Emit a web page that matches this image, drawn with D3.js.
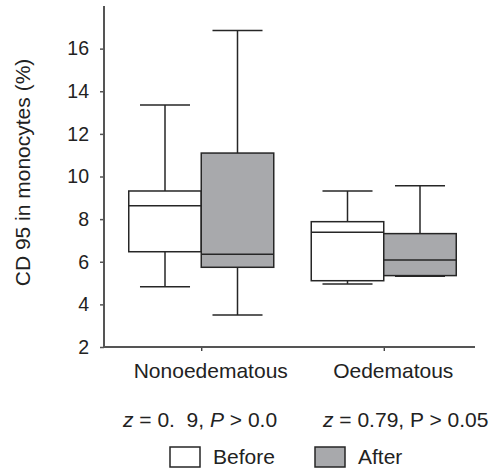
<!DOCTYPE html>
<html>
<head>
<meta charset="utf-8">
<script src="https://cdn.jsdelivr.net/npm/d3@7"></script>
<style>
  body { margin: 0; background: #fff; }
  svg { display: block; }
  text { font-family: "Liberation Sans", Arial, Helvetica, sans-serif; fill: #222; }
</style>
</head>
<body>
<svg id="chart" width="500" height="471"></svg>
<script>
// ---- data ----
const groups = ["Nonoedematous", "Oedematous"];
const series = ["Before", "After"];
// [whiskerLow, q1, median, q3, whiskerHigh]
const beforeStats = [[4.83, 6.47, 8.63, 9.32, 13.36], [4.96, 5.11, 7.38, 7.88, 9.32]];
const afterStats  = [[3.50, 5.74, 6.35, 11.10, 16.85], [5.32, 5.35, 6.08, 7.32, 9.57]];
const yTicks = [2, 4, 6, 8, 10, 12, 14, 16];
const statLabels = [
  [{t: "z", i: true}, {t: " = 0.  9, "}, {t: "P", i: true}, {t: " > 0.0"}],
  [{t: "z", i: true}, {t: " = 0.79, P > 0.05"}]
];
const yLabel = "CD 95 in monocytes (%)";

const svg = d3.select("#chart");
const y = d3.scaleLinear().domain([2, 18]).range([347, 6]);
const x = d3.scalePoint().domain(groups).range([110, 475]).padding(0.5);
const inner = d3.scaleBand().domain(series).range([-72.5, 72.5]);
const fills = {Before: "#ffffff", After: "#a8a9ac"};
const axisColor = "#555";
const boxColor = "#262626";
const FS = 21;

// axes
const gy = svg.append("g").attr("transform", "translate(104,0)")
  .call(d3.axisLeft(y).tickValues(yTicks).tickSize(4).tickSizeOuter(0).tickPadding(11));
gy.select(".domain").remove();
gy.append("line").attr("x1", 0).attr("x2", 0).attr("y1", y(18)).attr("y2", y(2))
  .attr("stroke", axisColor).attr("stroke-width", 2);
gy.selectAll(".tick line").attr("stroke", axisColor).attr("stroke-width", 1.5);
gy.selectAll(".tick text").attr("font-size", 19.5).attr("fill", "#222")
  .style("font-family", "Liberation Sans, Arial, sans-serif");

const gx = svg.append("g").attr("transform", `translate(0,${y(2)})`)
  .call(d3.axisBottom(x).tickSize(4).tickSizeOuter(0).tickPadding(12));
gx.select(".domain").remove();
gx.append("line").attr("x1", 104).attr("x2", 475).attr("y1", 0).attr("y2", 0)
  .attr("stroke", axisColor).attr("stroke-width", 2);
gx.selectAll(".tick line").attr("stroke", "#222").attr("stroke-width", 1.2);
gx.selectAll(".tick text").attr("font-size", FS).attr("fill", "#222").attr("dx", 9)
  .style("font-family", "Liberation Sans, Arial, sans-serif");

// y label
svg.append("text")
  .attr("transform", `translate(30,${(55 + 290) / 2}) rotate(-90)`)
  .attr("text-anchor", "middle")
  .attr("font-size", FS)
  .text(yLabel);

// boxes
const data = [];
groups.forEach((g, gi) => {
  data.push({g, s: "Before", v: beforeStats[gi]});
  data.push({g, s: "After", v: afterStats[gi]});
});
const bw = inner.bandwidth();
const capW = bw * 0.69;
const bg = svg.append("g").selectAll("g").data(data).join("g")
  .attr("transform", d => `translate(${x(d.g) + inner(d.s)},0)`);
bg.append("line").attr("x1", bw / 2).attr("x2", bw / 2)
  .attr("y1", d => y(d.v[4])).attr("y2", d => y(d.v[0]))
  .attr("stroke", boxColor).attr("stroke-width", 1.5);
bg.append("line").attr("x1", (bw - capW) / 2).attr("x2", (bw + capW) / 2)
  .attr("y1", d => y(d.v[4])).attr("y2", d => y(d.v[4]))
  .attr("stroke", boxColor).attr("stroke-width", 1.5);
bg.append("line").attr("x1", (bw - capW) / 2).attr("x2", (bw + capW) / 2)
  .attr("y1", d => y(d.v[0])).attr("y2", d => y(d.v[0]))
  .attr("stroke", boxColor).attr("stroke-width", 1.5);
bg.append("rect").attr("x", 0).attr("width", bw)
  .attr("y", d => y(d.v[3])).attr("height", d => y(d.v[1]) - y(d.v[3]))
  .attr("fill", d => fills[d.s]).attr("stroke", boxColor).attr("stroke-width", 1.5);
bg.append("line").attr("x1", 0).attr("x2", bw)
  .attr("y1", d => y(d.v[2])).attr("y2", d => y(d.v[2]))
  .attr("stroke", boxColor).attr("stroke-width", 1.5);

// stat labels
const statX = [123, 323];
statLabels.forEach((parts, i) => {
  const t = svg.append("text").attr("x", statX[i]).attr("y", 427)
    .attr("font-size", FS).style("white-space", "pre").attr("xml:space", "preserve");
  parts.forEach(p => t.append("tspan").attr("font-style", p.i ? "italic" : null).text(p.t));
});

// legend
const legX = [170, 315];
const lg = svg.append("g").selectAll("g").data(series).join("g")
  .attr("transform", (d, i) => `translate(${legX[i]},447)`);
lg.append("rect").attr("width", 30).attr("height", 20)
  .attr("fill", d => fills[d]).attr("stroke", boxColor).attr("stroke-width", 1.5);
lg.append("text").attr("x", 43).attr("y", 16.5).attr("font-size", FS).text(d => d);
</script>
</body>
</html>
